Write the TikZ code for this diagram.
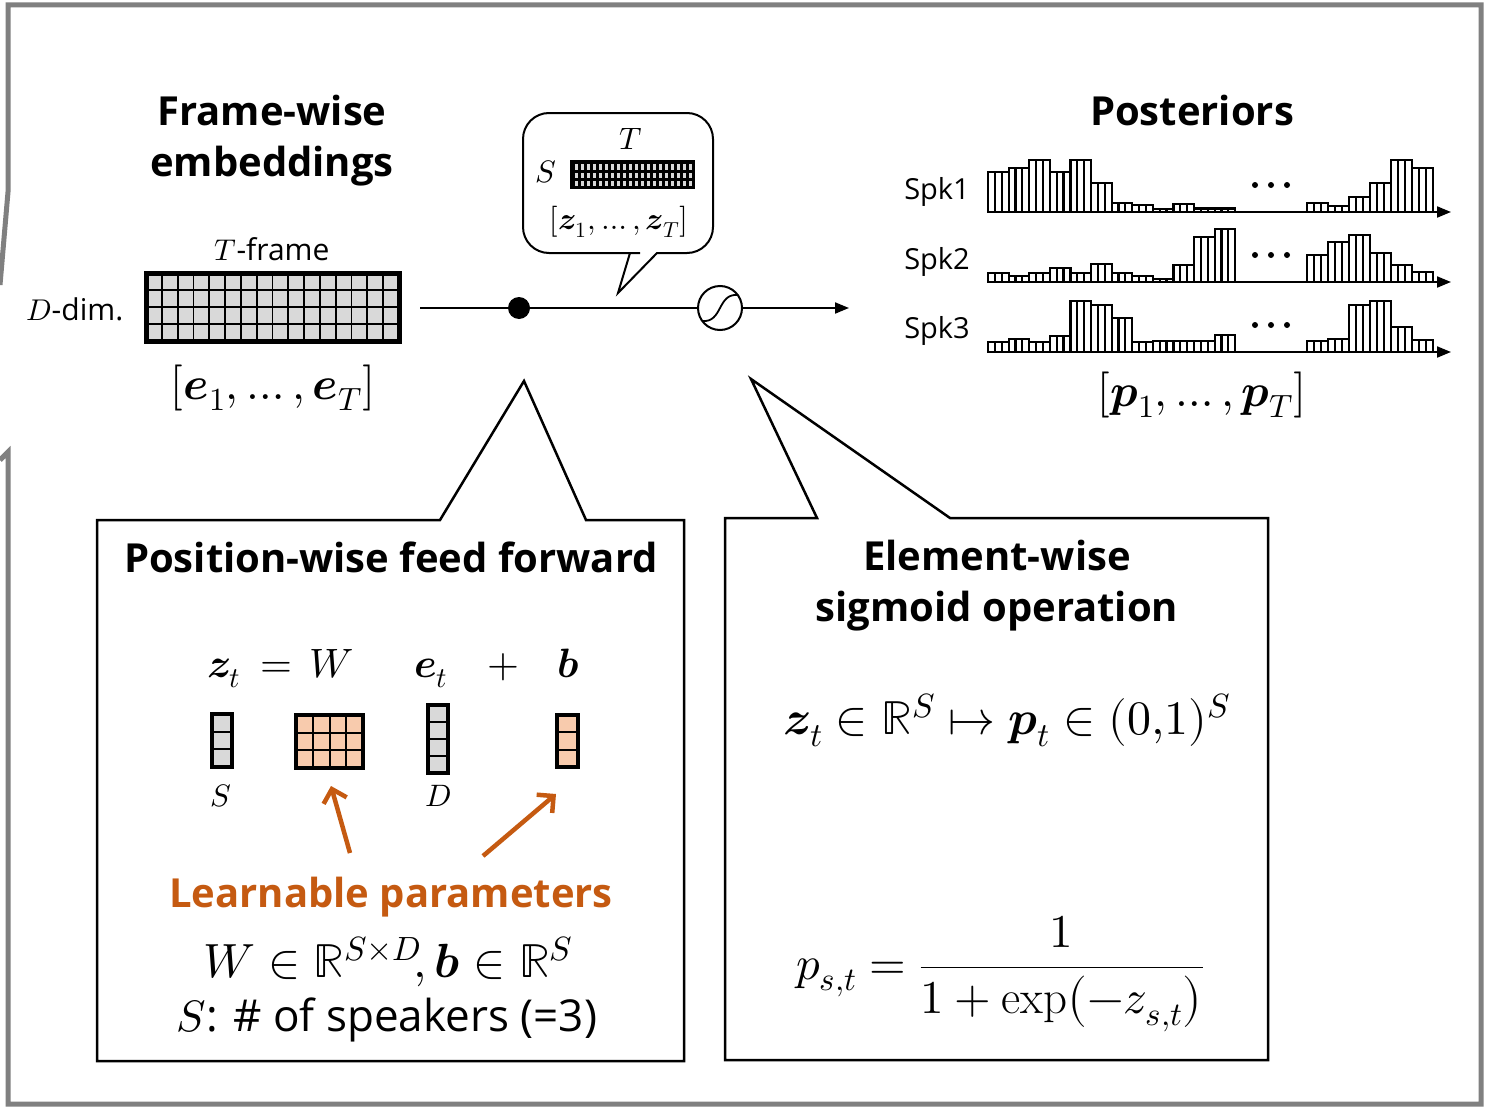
\documentclass[tikz,border=0pt]{standalone}
\usepackage{amsmath}
\usepackage{unicode-math}
\setmainfont{Open Sans}
\setmathfont{Latin Modern Math}
\setmathrm{Latin Modern Roman}
\usetikzlibrary{arrows.meta}
\definecolor{framegray}{HTML}{808080}
\definecolor{cellgray}{HTML}{D9D9D9}
\definecolor{peach}{HTML}{F8CBAD}
\definecolor{rust}{HTML}{C55A11}
\tikzset{
  ttl/.style={font=\fontsize{40}{51}\selectfont\bfseries, align=center, inner sep=0pt},
  spk/.style={font=\fontsize{29}{34}\selectfont, inner sep=0pt},
  bigm/.style={font=\fontsize{46}{52}\selectfont, inner sep=0pt},
  boxm/.style={font=\fontsize{48}{54}\selectfont, inner sep=0pt},
  midm/.style={font=\fontsize{41}{46}\selectfont, inner sep=0pt},
  smallm/.style={font=\fontsize{31}{35}\selectfont, inner sep=0pt},
  boxline/.style={line width=2.5pt, line join=miter},
  axisarrow/.style={line width=2pt, -{Triangle[length=14pt,width=11pt]}},
  blockline/.style={line width=2.2pt},
  orangearrow/.style={rust, line width=4.5pt, -{Straight Barb[length=12pt,width=24pt,line width=4.5pt]}},
}
% \barsrow{startx}{baseline y}{block width}{heights}
\newcommand{\barsrow}[4]{%
  \foreach \hh [count=\ii from 0] in {#4} {%
    \pgfmathsetmacro\xa{#1+\ii*#3}%
    \pgfmathsetmacro\xb{\xa+#3}%
    \pgfmathsetmacro\xc{\xa+#3/3}%
    \pgfmathsetmacro\xd{\xa+2*#3/3}%
    \draw[blockline] (\xa,#2) rectangle (\xb,#2-\hh);
    \draw[blockline] (\xc,#2) -- (\xc,#2-\hh) (\xd,#2) -- (\xd,#2-\hh);
  }%
}
\begin{document}
\begin{tikzpicture}[x=1pt,y=-1pt]
\useasboundingbox (0,0) rectangle (1486,1108);
\fill[white] (0,0) rectangle (1486,1108);
% outer gray frame
\draw[framegray, line width=5pt, line join=miter]
  (0,285) -- (8,192) -- (8,5) -- (1481,5) -- (1481,1104) -- (8,1104) -- (8,452) -- (0,460);

% ===== Frame-wise embeddings =====
\node[ttl] (fwtitle) at (272,141) {Frame-wise\\embeddings};
\node[font=\fontsize{30}{34}\selectfont, inner sep=0pt] (tframe) at (272,249) {$T$-frame};
\node[font=\fontsize{30}{34}\selectfont, inner sep=0pt] (ddim) at (75,309) {$D$-dim.};
\fill[cellgray] (146,273) rectangle (399,341);
\foreach \i in {1,...,15} \draw[line width=1.8pt] (146+\i*15.8125,273) -- ++(0,68);
\foreach \j in {1,2,3} \draw[line width=1.8pt] (146,273+\j*17) -- ++(253,0);
\draw[line width=5pt] (146,273) rectangle (399,341);
\coordinate (embgrid) at (272,307);
\node[bigm] (elist) at (273,388) {$[\symbfit{e}_1,\ldots,\symbfit{e}_T]$};

% ===== main line =====
\coordinate (lstart) at (420,308);
\node[circle, fill=black, minimum size=22pt, inner sep=0pt] (dot) at (519,308) {};
\node[circle, draw, line width=2pt, minimum size=44pt, inner sep=0pt] (sig) at (720,308) {};
\draw[line width=1.8pt] (702,321) .. controls (723,323) and (717,293) .. (738,295);
\coordinate (lend) at (849,308);
\draw[line width=2pt] (lstart) -- (dot);
\draw[line width=2pt] (dot) -- (sig);
\draw[axisarrow] (sig) -- (lend);

% ===== speech bubble =====
\draw[line width=2pt, line join=miter] (640,253) [rounded corners=26pt] -- (523,253) -- (523,113) -- (713,113) -- (713,253) [sharp corners] -- (657,253) -- (618,293) -- (630,253) -- (640,253);
\node[smallm] (bT) at (631,139) {$T$};
\node[smallm] (bS) at (546,172) {$S$};
\fill[black] (570,160) rectangle (695,189);
\foreach \i in {0,...,19} \foreach \j in {0,1,2}
  \fill[cellgray] (573.5+\i*6+1.2,163+\j*8.3+1.2) rectangle ++(3.6,5.6);
\node[smallm] (zlist) at (619,222) {$[\symbfit{z}_1,\ldots,\symbfit{z}_T]$};

% ===== Posteriors =====
\node[ttl] (posttitle) at (1192,110) {Posteriors};
\node[spk] (spk1) at (937,192) {Spk1};
\node[spk] (spk2) at (937,262) {Spk2};
\node[spk] (spk3) at (937,331) {Spk3};
\barsrow{988}{212}{20.6}{40,44,52,40,52,29,9,7,3,8,3.5,3.5}
\barsrow{1307}{212}{21}{9,6,15,29,52,44}
\barsrow{988}{282}{20.6}{9,6,9,14,9,18,9,6,3,17,45,53}
\barsrow{1307}{282}{21}{27,40,47,29,17,10}
\barsrow{988}{352}{20.6}{10,13,10,16,51,47,34,10,11,11,11,17}
\barsrow{1307}{352}{21}{11,13,47,51,25,12}
\coordinate (ax1s) at (988,212); \coordinate (ax1e) at (1451,212);
\coordinate (ax2s) at (988,282); \coordinate (ax2e) at (1451,282);
\coordinate (ax3s) at (988,352); \coordinate (ax3e) at (1451,352);
\draw[axisarrow] (ax1s) -- (ax1e);
\draw[axisarrow] (ax2s) -- (ax2e);
\draw[axisarrow] (ax3s) -- (ax3e);
\foreach \yy/\nm in {185/d1,255/d2,325/d3} {
  \node[inner sep=0pt] (\nm) at (1271,\yy) {};
  \foreach \dx in {-16,0,16} \fill (1271+\dx,\yy) circle (3pt);
}
\node[bigm] (plist) at (1202,395) {$[\symbfit{p}_1,\ldots,\symbfit{p}_T]$};

% ===== Position-wise feed forward box =====
\draw[boxline] (440,520) -- (97,520) -- (97,1061) -- (684,1061) -- (684,520) -- (586,520) -- (524,381) -- cycle;
\node[ttl] (pwtitle) at (391,557) {Position-wise feed forward};
\node[midm, anchor=base] (eqz) at (224,677) {$\symbfit{z}_t$};
\node[midm, anchor=base] (eqeq) at (276,677) {$=$};
\node[midm, anchor=base] (eqW) at (332,677) {$W$};
\node[midm, anchor=base] (eqe) at (431,677) {$\symbfit{e}_t$};
\node[midm, anchor=base] (eqp) at (503,677) {$+$};
\node[midm, anchor=base] (eqb) at (568,677) {$\symbfit{b}$};
% z vector
\fill[cellgray] (212,714) rectangle (232,767);
\foreach \j in {1,2} \draw[line width=2pt] (212,714+\j*17.67) -- ++(20,0);
\draw[line width=4pt] (212,714) rectangle (232,767);
\node[inner sep=0pt] (zvec) at (222,740) {};
% W matrix
\fill[peach] (296,715) rectangle (363,768);
\foreach \i in {1,2,3} \draw[line width=2pt] (296+\i*16.75,715) -- ++(0,53);
\foreach \j in {1,2} \draw[line width=2pt] (296,715+\j*17.67) -- ++(67,0);
\draw[line width=4pt] (296,715) rectangle (363,768);
\node[inner sep=0pt] (Wmat) at (330,741) {};
% e vector
\fill[cellgray] (428,705) rectangle (448,773);
\foreach \j in {1,2,3} \draw[line width=2pt] (428,705+\j*17) -- ++(20,0);
\draw[line width=4pt] (428,705) rectangle (448,773);
\node[inner sep=0pt] (evec) at (438,739) {};
% b vector
\fill[peach] (557,715) rectangle (578,767);
\foreach \j in {1,2} \draw[line width=2pt] (557,715+\j*17.33) -- ++(21,0);
\draw[line width=4pt] (557,715) rectangle (578,767);
\node[inner sep=0pt] (bvec) at (567,741) {};
\node[smallm] (labS) at (221,796) {$S$};
\node[smallm] (labD) at (438,796) {$D$};
\coordinate (a1s) at (350,853); \coordinate (a1e) at (331,786);
\coordinate (a2s) at (483,856); \coordinate (a2e) at (556,794);
\draw[orangearrow] (a1s) -- (a1e);
\draw[orangearrow] (a2s) -- (a2e);
\node[ttl, text=rust] (learn) at (391,897) {Learnable parameters};
\node[boxm] (wdef) at (388,962) {$W\in\mathbb{R}^{S\times D}\!,\symbfit{b}\in\mathbb{R}^{S}$};
\node[font=\fontsize{44}{50}\selectfont, inner sep=0pt] (sdef) at (387,1020) {$S$: \# of speakers (=3)};

% ===== Element-wise sigmoid box =====
\draw[boxline] (817,518) -- (725,518) -- (725,1060) -- (1268,1060) -- (1268,518) -- (950,518) -- (751,379) -- cycle;
\node[ttl] (ewtitle) at (997,586) {Element-wise\\sigmoid operation};
\node[boxm] (map) at (1007,720) {$\symbfit{z}_t\in\mathbb{R}^S\mapsto\symbfit{p}_t\in(0{,}1)^S$};
\node[font=\fontsize{47}{52}\selectfont, inner sep=0pt] (sigeq) at (1000,974) {$p_{s,t}=\dfrac{1}{1+\exp\bigl(-z_{s,t}\bigr)}$};
\end{tikzpicture}
\end{document}
